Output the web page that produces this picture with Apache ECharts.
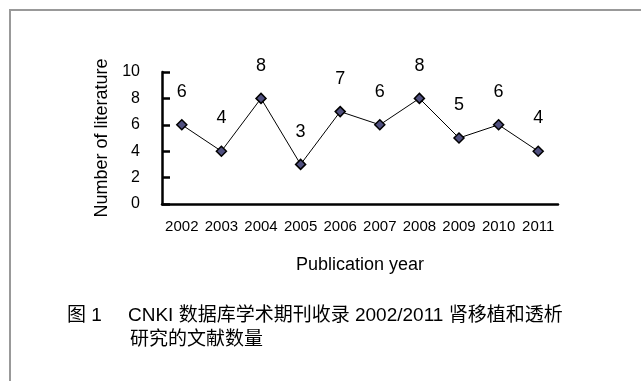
<!DOCTYPE html>
<html>
<head>
<meta charset="utf-8">
<script src="https://cdn.jsdelivr.net/npm/echarts@6/dist/echarts.min.js"></script>
<style>
  html, body { margin: 0; padding: 0; background: #fff; }
  #chart { width: 641px; height: 381px; }
</style>
</head>
<body>
<div id="chart"></div>
<script>
// Publication years and number of papers per year
const years = ['2002', '2003', '2004', '2005', '2006', '2007', '2008', '2009', '2010', '2011'];
const counts = [6, 4, 8, 3, 7, 6, 8, 5, 6, 4];
const yTicks = [0, 2, 4, 6, 8, 10];

const latin = '"Liberation Sans", Arial, sans-serif';
const cjk = '"Liberation Sans", "Noto Sans CJK SC", sans-serif';

const chart = echarts.init(document.getElementById('chart'), null, { renderer: 'canvas' });

chart.setOption({
  backgroundColor: '#fff',
  animation: false,
  grid: { left: 162, right: 83, top: 72, bottom: 177, containLabel: false },
  xAxis: {
    type: 'category',
    data: years,
    boundaryGap: true,
    name: 'Publication year',
    nameLocation: 'middle',
    nameGap: 52,
    nameTextStyle: { fontFamily: latin, fontSize: 18, color: '#000' },
    axisLine: { lineStyle: { color: '#000', width: 2.5 } },
    axisTick: { inside: true, length: 7, interval: 0, lineStyle: { color: '#000', width: 2.5 } },
    axisLabel: { margin: 15, interval: 0, fontFamily: latin, fontSize: 15, color: '#000' },
    splitLine: { show: false }
  },
  yAxis: {
    type: 'value',
    min: yTicks[0],
    max: yTicks[yTicks.length - 1],
    interval: 2,
    name: 'Number of literature',
    nameLocation: 'middle',
    nameRotate: 90,
    nameGap: 50,
    nameTextStyle: { fontFamily: latin, fontSize: 18, color: '#000' },
    axisLine: { show: true, lineStyle: { color: '#000', width: 2.5 } },
    axisTick: { show: true, inside: true, length: 8, lineStyle: { color: '#000', width: 2.5 } },
    axisLabel: { margin: 22, fontFamily: latin, fontSize: 16, color: '#000' },
    splitLine: { show: false }
  },
  series: [{
    type: 'line',
    data: counts,
    symbol: 'diamond',
    symbolSize: 10,
    itemStyle: { color: '#50507f', borderColor: '#000', borderWidth: 1.5 },
    lineStyle: { color: '#000', width: 1 },
    label: {
      show: true,
      position: 'top',
      distance: 18,
      fontFamily: latin,
      fontSize: 18,
      color: '#000'
    }
  }],
  graphic: [
    {
      type: 'polyline',
      shape: { points: [[10, 381], [10, 10], [641, 10]] },
      style: { stroke: '#999', lineWidth: 2, fill: null },
      silent: true
    },
    {
      type: 'text', left: 67, top: 306,
      style: { text: '图 1', font: '19px ' + cjk, fill: '#000' }
    },
    {
      type: 'text', left: 128, top: 306,
      style: { text: 'CNKI 数据库学术期刊收录 2002/2011 肾移植和透析', font: '19px ' + cjk, fill: '#000' }
    },
    {
      type: 'text', left: 130, top: 330,
      style: { text: '研究的文献数量', font: '19px ' + cjk, fill: '#000' }
    }
  ]
});
</script>
</body>
</html>
